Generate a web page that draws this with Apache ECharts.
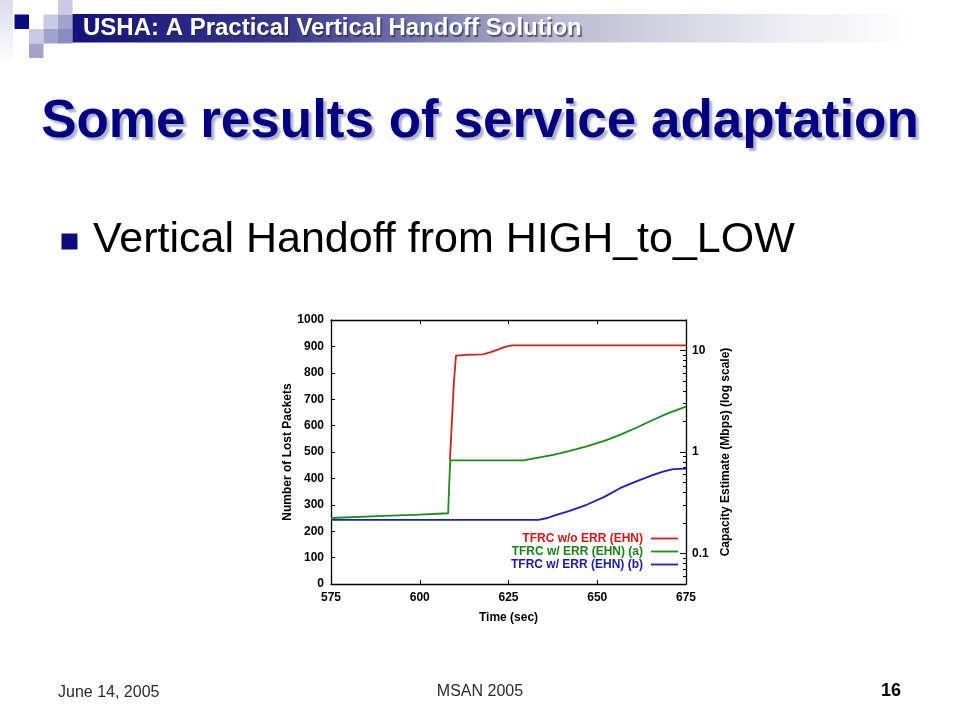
<!DOCTYPE html>
<html>
<head>
<meta charset="utf-8">
<script src="https://cdn.jsdelivr.net/npm/echarts@6/dist/echarts.min.js"></script>
<style>
html,body{margin:0;padding:0;background:#fff;}
#c{width:960px;height:720px;}
</style>
</head>
<body>
<div id="c"></div>
<script>
// ---- data ----
var seriesNames = ['TFRC w/o ERR (EHN)', 'TFRC w/ ERR (EHN) (a)', 'TFRC w/ ERR (EHN) (b)'];
var redTime  = [608.5, 609.0, 609.6, 610.2, 613, 617.8, 620, 622, 624, 626, 675];
var redValue = [470, 600, 760, 865, 868, 870, 878, 888, 898, 904, 904];
var greenTime  = [575, 590, 600, 608.0, 608.3, 608.6, 629.2, 633, 637.6, 642, 647, 652, 656.4, 661, 665.8, 670, 675];
var greenValue = [250, 258, 263, 268, 380, 468, 468, 478, 489, 503, 521, 542, 565, 592, 622, 647, 672];
var blueTime  = [575, 633.4, 636, 637.6, 642, 647, 652, 656.4, 661, 665.8, 668.5, 671.4, 675];
var blueValue = [243, 243, 250, 258, 276, 300, 330, 363, 389, 413, 426, 435, 437];
var xTicks = [575, 600, 625, 650, 675];
var capacityMajor = [0.1, 1, 10];
var capacityMantissa = [2, 3, 4, 5, 6, 7, 8, 9];
var capacityDecades = [0.01, 0.1, 1, 10];

var colors = ['#d41f1f', '#1c8a1c', '#1f1fb4'];
var textColors = ['#d01818', '#198219', '#1a1aa8'];

function zip(a, b) { return a.map(function (v, i) { return [v, b[i]]; }); }

var minorTicks = [];
capacityDecades.forEach(function (d) {
  capacityMantissa.forEach(function (m) {
    var v = Number((m * d).toPrecision(3));
    if (v > 0.05 && v < 20) minorTicks.push(v);
  });
});

var FONT = '"Liberation Sans", Arial, sans-serif';
var chart = echarts.init(document.getElementById('c'), null, { renderer: 'canvas' });

var graphics = [
  // pale strip at far left
  { type: 'rect', shape: { x: 0, y: 0, width: 13, height: 66 },
    style: { fill: new echarts.graphic.LinearGradient(0, 0, 0, 1, [
      { offset: 0, color: '#dcdcee' }, { offset: 1, color: '#ffffff' }]) } },
  // decorative squares
  { type: 'rect', shape: { x: 58, y: 0, width: 14.5, height: 14.5 }, style: { fill: '#cacae4' } },
  { type: 'rect', shape: { x: 14.5, y: 14.5, width: 14.5, height: 14.5 }, style: { fill: '#0a0a7e' } },
  { type: 'rect', shape: { x: 43.5, y: 14.5, width: 14.5, height: 14.5 }, style: { fill: '#cacae4' } },
  { type: 'rect', shape: { x: 58, y: 14.5, width: 14.5, height: 14.5 }, style: { fill: '#a2a2cc' } },
  { type: 'rect', shape: { x: 29, y: 29, width: 14.5, height: 14.5 }, style: { fill: '#cacae4' } },
  { type: 'rect', shape: { x: 43.5, y: 29, width: 14.5, height: 14.5 }, style: { fill: '#a2a2cc' } },
  { type: 'rect', shape: { x: 58, y: 29, width: 14.5, height: 14.5 }, style: { fill: '#8a8abc' } },
  { type: 'rect', shape: { x: 29, y: 43.5, width: 14.5, height: 14.5 }, style: { fill: '#a4a4c8' } },
  // banner
  { type: 'rect', shape: { x: 72.5, y: 14, width: 887.5, height: 28.5 },
    style: { fill: new echarts.graphic.LinearGradient(0, 0, 1, 0, [
      { offset: 0, color: '#12127a' },
      { offset: 0.25, color: '#3c3c8e' },
      { offset: 0.55, color: '#bcbcd2' },
      { offset: 0.8, color: '#ececf2' },
      { offset: 0.95, color: '#ffffff' },
      { offset: 1, color: '#ffffff' }]) } },
  { type: 'text', x: 83, y: 28.5,
    style: { text: 'USHA: A Practical Vertical Handoff Solution', fill: '#ffffff',
      font: 'bold 24px ' + FONT, textVerticalAlign: 'middle', textAlign: 'left',
      textShadowColor: 'rgba(40,40,60,0.7)', textShadowOffsetX: 1.5, textShadowOffsetY: 1.5, textShadowBlur: 1 } },
  // title
  { type: 'text', x: 480, y: 122,
    style: { text: 'Some results of service adaptation', fill: '#000080',
      font: 'bold 53px ' + FONT, textAlign: 'center', textVerticalAlign: 'middle',
      textShadowColor: 'rgba(150,150,190,0.75)', textShadowOffsetX: 3, textShadowOffsetY: 3, textShadowBlur: 2 } },
  // bullet
  { type: 'rect', shape: { x: 61.5, y: 233.5, width: 16, height: 16 }, style: { fill: '#0c0c80' } },
  { type: 'text', x: 93, y: 240,
    style: { text: 'Vertical Handoff from HIGH_to_LOW', fill: '#000000',
      font: '43px ' + FONT, textAlign: 'left', textVerticalAlign: 'middle' } },
  // footer
  { type: 'text', x: 58, y: 693,
    style: { text: 'June 14, 2005', fill: '#2a2a2a', font: '16px ' + FONT,
      textAlign: 'left', textVerticalAlign: 'middle' } },
  { type: 'text', x: 480, y: 692,
    style: { text: 'MSAN 2005', fill: '#2a2a2a', font: '16px ' + FONT,
      textAlign: 'center', textVerticalAlign: 'middle' } },
  { type: 'text', x: 901, y: 691,
    style: { text: '16', fill: '#000000', font: 'bold 18px ' + FONT,
      textAlign: 'right', textVerticalAlign: 'middle' } }
];

var axisLine = { show: true, lineStyle: { color: '#000', width: 1.3 } };
var labelStyle = { color: '#000', fontFamily: FONT, fontWeight: 'bold', fontSize: 12 };
var nameStyle = { color: '#000', fontFamily: FONT, fontWeight: 'bold', fontSize: 12 };

var option = {
  animation: false,
  backgroundColor: '#ffffff',
  graphic: graphics,
  grid: { left: 331, right: 274, top: 320, bottom: 136, containLabel: false },
  legend: {
    orient: 'vertical', align: 'right', right: 277, top: 527,
    icon: 'rect', itemWidth: 27, itemHeight: 1.8, itemGap: 0,
    textStyle: { fontFamily: FONT, fontWeight: 'bold', fontSize: 12, padding: [0, 3, 0, 0], lineHeight: 13 },
    data: seriesNames.map(function (n, i) { return { name: n, textStyle: { color: textColors[i] } }; })
  },
  xAxis: [
    { type: 'value', min: xTicks[0], max: xTicks[xTicks.length - 1], interval: 25,
      name: 'Time (sec)', nameLocation: 'middle', nameGap: 28, nameTextStyle: nameStyle,
      axisLine: axisLine, axisTick: { inside: true, length: 4, lineStyle: { color: '#000' } },
      axisLabel: Object.assign({ margin: 8, formatter: function (v) { return String(v); } }, labelStyle),
      splitLine: { show: false } },
    { type: 'value', position: 'top', min: xTicks[0], max: xTicks[xTicks.length - 1], interval: 25,
      axisLine: axisLine, axisTick: { inside: true, length: 4, lineStyle: { color: '#000' } },
      axisLabel: { show: false }, splitLine: { show: false } }
  ],
  yAxis: [
    { type: 'value', min: 0, max: 1000, interval: 100,
      name: 'Number of Lost Packets', nameLocation: 'middle', nameRotate: 90, nameGap: 37,
      nameTextStyle: nameStyle,
      axisLine: axisLine, axisTick: { inside: true, length: 4, lineStyle: { color: '#000' } },
      axisLabel: Object.assign({ margin: 7, formatter: function (v) { return String(v); } }, labelStyle),
      splitLine: { show: false } },
    { type: 'log', logBase: 10, min: 0.05, max: 20, position: 'right',
      name: 'Capacity Estimate (Mbps) (log scale)', nameLocation: 'middle', nameRotate: 90, nameGap: 34,
      nameTextStyle: nameStyle,
      axisLine: axisLine,
      axisTick: { inside: true, length: 6, customValues: capacityMajor, lineStyle: { color: '#000' } },
      axisLabel: Object.assign({ margin: 6, customValues: capacityMajor,
        formatter: function (v) { return String(Number(Number(v).toPrecision(3))); } }, labelStyle),
      splitLine: { show: false } },
    { type: 'log', logBase: 10, min: 0.05, max: 20, position: 'right',
      axisLine: { show: false },
      axisTick: { inside: true, length: 3, customValues: minorTicks, lineStyle: { color: '#000' } },
      axisLabel: { show: false }, splitLine: { show: false } }
  ],
  series: [
    { name: seriesNames[0], type: 'line', data: zip(redTime, redValue), symbol: 'none',
      lineStyle: { color: colors[0], width: 1.8 }, itemStyle: { color: colors[0] }, z: 2 },
    { name: seriesNames[1], type: 'line', data: zip(greenTime, greenValue), symbol: 'none',
      lineStyle: { color: colors[1], width: 1.8 }, itemStyle: { color: colors[1] }, z: 3 },
    { name: seriesNames[2], type: 'line', data: zip(blueTime, blueValue), symbol: 'none',
      lineStyle: { color: colors[2], width: 1.8 }, itemStyle: { color: colors[2] }, z: 4 }
  ]
};
chart.setOption(option);
</script>
</body>
</html>
